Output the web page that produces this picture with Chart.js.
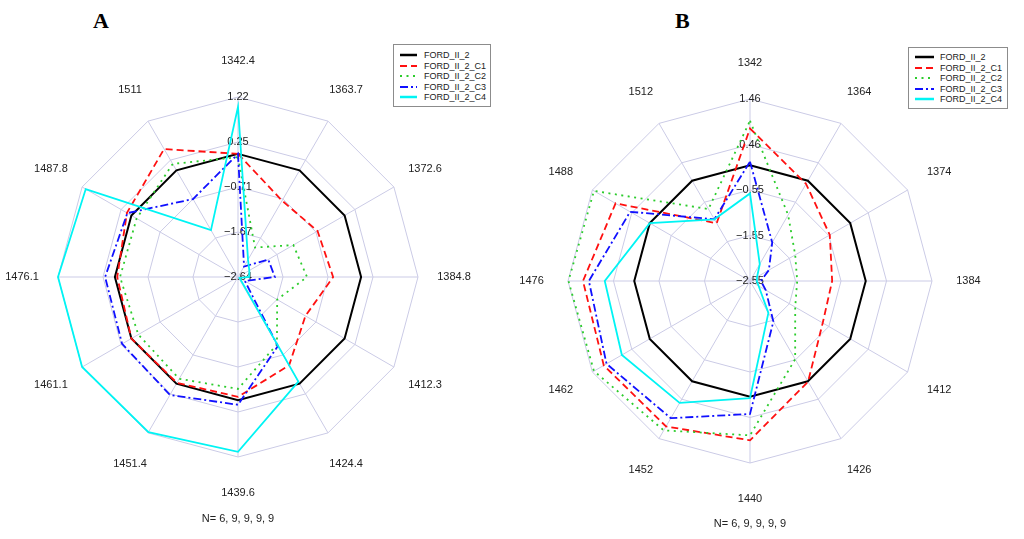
<!doctype html>
<html lang="en">
<head>
<meta charset="utf-8">
<title>FORD_II_2 radar - chartjs</title>
<script src="https://cdn.jsdelivr.net/npm/chart.js"></script>
<style>
    html, body { margin:0; padding:0; background:#fff; }
    body { width:1024px; height:539px; position:relative; overflow:hidden; font-family:Arial, "Liberation Sans", sans-serif; }
    canvas { position:absolute; top:0; }
    .tag { position:absolute; font:bold 22px/1 "Liberation Serif", "Times New Roman", serif; color:#000; }
    .nlab { position:absolute; font-size:11px; line-height:1; color:#222; transform:translateX(-50%); white-space:nowrap; }
    .legend { position:absolute; border:1px solid #8c8c8c; background:#fff; font-size:9px; color:#222; box-sizing:border-box; }
    .legend .row { display:flex; align-items:center; height:10.5px; white-space:nowrap; }
    .legend svg { display:block; flex:none; }
</style>
</head>
<body>
    <div class="tag" style="left:93px; top:10px">A</div>
    <div class="tag" style="left:675px; top:10px">B</div>

    <canvas id="chart-a" width="512" height="539" style="left:0"></canvas>
    <canvas id="chart-b" width="512" height="539" style="left:512px"></canvas>

    <div class="nlab" style="left:238px; top:513px">N= 6, 9, 9, 9, 9</div>
    <div class="nlab" style="left:750px; top:518px">N= 6, 9, 9, 9, 9</div>

    <div id="legend-a" class="legend" style="left:393px; top:44px; width:98px; height:63px; padding:4.75px 0 0 6px"></div>
    <div id="legend-b" class="legend" style="left:908px; top:47px; width:100px; height:62px; padding:3.75px 0 0 6px"></div>

<script>
    // series
    const seriesNames = ['FORD_II_2', 'FORD_II_2_C1', 'FORD_II_2_C2', 'FORD_II_2_C3', 'FORD_II_2_C4'];

    // panel A
    const labelsA = ['1342.4', '1363.7', '1372.6', '1384.8', '1412.3', '1424.4', '1439.6', '1451.4', '1461.1', '1476.1', '1487.8', '1511'];
    const ticksA = ['−2.64', '−1.67', '−0.71', '0.25', '1.22'];
    const baseA = [0, 0, 0, 0, 0, 0, 0, 0, 0, 0, 0, 0];
    const c1A = [0.00, -0.75, -0.67, -0.60, -0.97, -0.45, -0.07, -0.02, 0.00, -0.05, 0.11, 0.53];
    const c2A = [-0.07, -1.91, -1.27, -1.16, -1.67, -0.97, -0.24, -0.12, -0.17, -0.11, -0.13, 0.16];
    const c3A = [0.00, -2.38, -1.89, -1.85, -2.47, -0.93, 0.10, 0.28, 0.23, 0.21, 0.10, -0.71];
    const c4A = [1.01, -2.21, -2.36, -2.40, -2.60, -0.05, 1.11, 1.20, 1.22, 1.22, 1.13, -1.48];

    // panel B
    const labelsB = ['1342', '1364', '1374', '1384', '1412', '1426', '1440', '1452', '1462', '1476', '1488', '1512'];
    const ticksB = ['−2.55', '−1.55', '−0.55', '0.46', '1.46'];
    const baseB = [0, 0, 0, 0, 0, 0, 0, 0, 0, 0, 0, 0];
    const c1B = [0.81, -0.08, -0.52, -0.74, -0.70, 0.01, 0.96, 1.15, 1.17, 1.13, 0.87, -1.08];
    const c2B = [0.98, -0.87, -1.40, -1.51, -1.40, -0.56, 0.85, 1.25, 1.42, 1.45, 1.42, -0.72];
    const c3B = [0.08, -1.57, -2.07, -2.31, -2.15, -1.52, 0.38, 0.94, 1.10, 1.00, 0.50, -0.98];
    const c4B = [-0.62, -2.12, -2.37, -2.40, -2.33, -1.74, 0.03, 0.55, 0.71, 0.65, 0.00, -0.98];

    const lineColors = ['#000000', '#ff1010', '#2ccc2c', '#1010ff', '#00f4f4'];
    const lineDashes = [[], [7, 4], [2, 4.5], [8, 3, 2, 3], []];
    const lineWidths = [2, 1.8, 1.8, 1.8, 1.8];
    const gridColor = '#cbcbe6';

    // axis names round the outside, centred on the spoke
    const outerLabels = {
        id: 'outerLabels',
        afterDraw(chart) {
            const r = chart.scales.r;
            const ctx = chart.ctx;
            ctx.save();
            ctx.font = '11px Arial, "Liberation Sans", sans-serif';
            ctx.fillStyle = '#222';
            ctx.textAlign = 'center';
            ctx.textBaseline = 'middle';
            chart.data.labels.forEach((lab, i) => {
                const p = r.getPointPosition(i, r.drawingArea * 1.2);
                ctx.fillText(lab, p.x, p.y);
            });
            ctx.restore();
        }
    };

    function makeRadar(id, labels, series, min, max, tickLabels, pad) {
        const datasets = series.map((d, i) => ({
            label: seriesNames[i],
            data: d,
            borderColor: lineColors[i],
            borderDash: lineDashes[i],
            borderWidth: lineWidths[i],
            fill: false,
            tension: 0,
            pointRadius: 0,
            pointHoverRadius: 0,
            order: series.length - i,
        }));
        return new Chart(document.getElementById(id), {
            type: 'radar',
            data: { labels: labels, datasets: datasets },
            options: {
                responsive: false,
                animation: false,
                events: [],
                layout: { padding: pad },
                plugins: {
                    legend: { display: false },
                    tooltip: { enabled: false },
                },
                scales: {
                    r: {
                        min: min,
                        max: max,
                        beginAtZero: false,
                        ticks: {
                            count: 5,
                            callback: (v, i) => tickLabels[i],
                            font: { size: 11, family: 'Arial, "Liberation Sans", sans-serif' },
                            color: '#222',
                            showLabelBackdrop: false,
                            backdropPadding: 0,
                        },
                        grid: { color: gridColor, lineWidth: 1 },
                        angleLines: { color: gridColor, lineWidth: 1 },
                        pointLabels: { display: false },
                    }
                }
            },
            plugins: [outerLabels]
        });
    }

    function makeLegend(id, sampleW, gap) {
        const box = document.getElementById(id);
        seriesNames.forEach((name, i) => {
            const row = document.createElement('div');
            row.className = 'row';
            const dash = lineDashes[i].length ? lineDashes[i].join(' ') : 'none';
            const w = i === 0 || i === 4 ? 2.5 : 2;
            row.innerHTML =
                `<svg width="${sampleW}" height="6"><line x1="0" y1="3" x2="${sampleW}" y2="3" stroke="${lineColors[i]}" stroke-width="${w}" stroke-dasharray="${dash}"/></svg>` +
                `<span style="margin-left:${gap}px">${name}</span>`;
            box.appendChild(row);
        });
    }

    makeRadar('chart-a', labelsA, [baseA, c1A, c2A, c3A, c4A], -2.64, 1.22, ticksA,
        { left: 53, top: 92, right: 88, bottom: 76 });
    makeRadar('chart-b', labelsB, [baseB, c1B, c2B, c3B, c4B], -2.55, 1.46, ticksB,
        { left: 51, top: 94, right: 86, bottom: 70 });

    makeLegend('legend-a', 17, 7);
    makeLegend('legend-b', 19, 6);
</script>
</body>
</html>
